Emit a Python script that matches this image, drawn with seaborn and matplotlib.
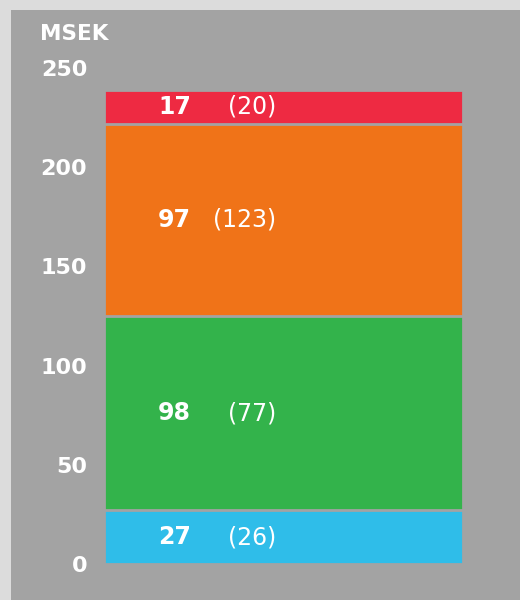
import matplotlib
matplotlib.use('Agg')
import matplotlib.pyplot as plt
import seaborn as sns
import numpy as np
import pandas as pd
from matplotlib.patches import Rectangle

# data (bottom to top)
segments = ['blue', 'green', 'orange', 'red']
values_now = [27, 98, 97, 17]
values_prev = [26, 77, 123, 20]
colors = ['#2fbde9', '#33b34b', '#f07318', '#ee2a42']
yticks = [0, 50, 100, 150, 200, 250]
unit_label = 'MSEK'

bg = '#a3a3a3'
outer = '#dcdcdc'

sns.set_theme(style='white')
plt.rcParams['font.family'] = ['DejaVu Sans']

fig = plt.figure(figsize=(5.2, 6), dpi=100)
fig.patch.set_facecolor(outer)
fig.patches.append(Rectangle((11 / 520, 0), 1, 590 / 600, transform=fig.transFigure,
                             facecolor=bg, edgecolor='none', zorder=-5))

ax = fig.add_axes([104 / 520, 36 / 600, 359 / 520, 496 / 600])
ax.set_facecolor('none')
ax.set_zorder(2)

cum = np.cumsum(values_now)
# draw from tallest to shortest so the stacks overlap, edges give the gaps
for i in range(len(values_now) - 1, -1, -1):
    df = pd.DataFrame({'x': ['a'], 'y': [cum[i]]})
    sns.barplot(data=df, x='x', y='y', color=colors[i], width=1.0, saturation=1,
                edgecolor=bg, linewidth=2.0, ax=ax)

ax.set_xlim(-0.5, 0.5)
ax.set_ylim(0, 250)
ax.set_yticks(yticks)
ax.set_yticklabels([str(t) for t in yticks], fontsize=16, fontweight='bold', color='white')
ax.tick_params(axis='y', length=0, pad=12)
ax.set_xticks([])
ax.set_xlabel('')
ax.set_ylabel('')
sns.despine(ax=ax, left=True, bottom=True)

fig.text(40 / 520, 1 - 34 / 600, unit_label, fontsize=15.5, fontweight='bold', color='white',
         ha='left', va='center')

x_now = (191 - 104) / 359
x_prev = (276 - 104) / 359
starts = cum - np.array(values_now)
for v, p, s in zip(values_now, values_prev, starts):
    ymid = s + v / 2
    ax.text(x_now, ymid, str(v), transform=ax.get_yaxis_transform(), ha='right', va='center',
            fontsize=17, fontweight='bold', color='white')
    ax.text(x_prev, ymid, f'({p})', transform=ax.get_yaxis_transform(), ha='right', va='center',
            fontsize=17, color='white')

fig.savefig('out.png', dpi=100, facecolor=fig.get_facecolor())
